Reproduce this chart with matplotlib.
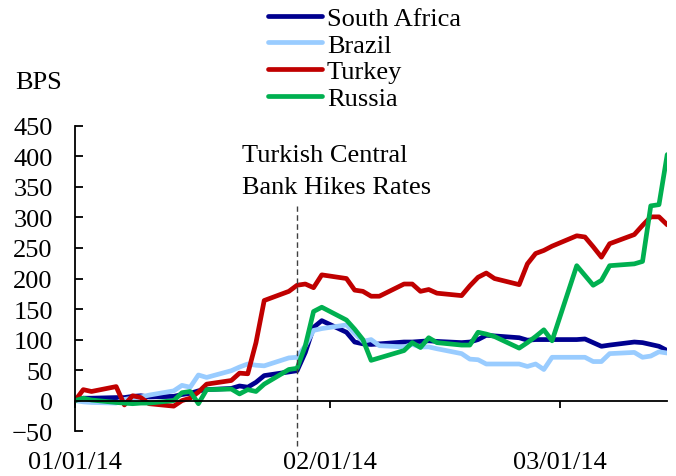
import numpy as np
import pandas as pd
import matplotlib
matplotlib.use("Agg")
import matplotlib.pyplot as plt
import matplotlib.dates as mdates

plt.rcParams['font.family'] = ['Liberation Serif', 'DejaVu Serif']

# business days, 01/01/14 .. 03/14/14
dates = pd.bdate_range("2014-01-01", "2014-03-14")

south_africa = [0, 4, 4, 5, 5, 7, 8, 6, 7, 10, 12, 16, 18, 20, 24, 22, 30, 41,
                47, 49, 79, 120, 131, 112, 96, 93, 92, 93, 96, 96, 97, 98, 97,
                95, 96, 100, 107, 106, 103, 99, 100, 100, 100, 100, 101, 95, 89,
                91, 96, 95, 92, 89, 82]
brazil = [0, -2, -3, -4, 2, 4, 6, 9, 16, 25, 22, 42, 38, 49, 55, 60, 58, 57,
          70, 71, 90, 115, 118, 124, 110, 97, 100, 90, 88, 92, 88, 88, 85,
          77, 68, 67, 60, 60, 60, 56, 60, 51, 71, 71, 71, 64, 64, 77, 79, 71,
          73, 80, 78]
turkey = [0, 18, 15, 23, -7, 8, 5, -5, -9, 0, 4, 14, 27, 33, 45, 44, 95, 164,
          179, 189, 191, 185, 206, 200, 181, 179, 171, 171, 191, 191, 179, 182,
          176, 172, 188, 202, 209, 200, 190, 224, 241, 246, 253, 270, 268, 252,
          235, 257, 272, 287, 301, 301, 288]
russia = [0, 4, 1, -3, -4, -5, -4, -4, 0, 13, 15, -5, 18, 19, 11, 18, 15, 27,
          51, 53, 90, 146, 153, 132, 117, 100, 66, 70, 82, 95, 87, 103, 95,
          91, 91, 112, 109, 105, 86, 95, 105, 116, 98, 221, 205, 189, 197, 221,
          224, 228, 319, 321, 403]

series = [("South Africa", south_africa, "#00008F"),
          ("Brazil", brazil, "#99CCFF"),
          ("Turkey", turkey, "#C00000"),
          ("Russia", russia, "#00B050")]

event_date = pd.Timestamp("2014-01-28")
tick_dates = pd.to_datetime(["2014-01-01", "2014-02-01", "2014-03-01"])

fig = plt.figure(figsize=(6.76, 4.77), dpi=100)
ax = fig.add_axes([0.111, 0.094, 0.876, 0.640])

for name, vals, col in series:
    ax.plot(dates, vals, color=col, lw=3.4, label=name, solid_capstyle='round')

ax.axvline(event_date, ymin=-0.05, ymax=0.738, color="#404040", lw=1,
           ls=(0, (4, 2.5)), clip_on=False)

ax.set_xlim(dates[0], dates[-1])
ax.set_ylim(-50, 450)
ax.set_yticks(np.arange(-50, 451, 50))
ax.set_xticks(tick_dates)
ax.xaxis.set_major_formatter(mdates.DateFormatter("%m/%d/%y"))

ax.spines['top'].set_visible(False)
ax.spines['right'].set_visible(False)
ax.spines['bottom'].set_position(('data', 0))
ax.spines['left'].set_bounds(-50, 450)
for s in ['left', 'bottom']:
    ax.spines[s].set_linewidth(1.3)

ax.tick_params(axis='y', direction='in', length=5.5, width=1.3, labelsize=19, pad=16)
ax.tick_params(axis='x', direction='out', length=5, width=1.3, labelsize=19, pad=31)

ax.text(0.282, 0.852, "Turkish Central\nBank Hikes Rates", transform=ax.transAxes,
        fontsize=19, va='center', ha='left', linespacing=1.62)

fig.text(15 / 676, 1 - 83 / 477, "BPS", fontsize=19, va='center', ha='left')

fig.legend(loc='upper left', bbox_to_anchor=(0.392, 0.99), frameon=False,
           fontsize=19, handlelength=2.05, handletextpad=0.2, labelspacing=0.12,
           borderpad=0.0, borderaxespad=0.1)

fig.savefig("out.png", dpi=100)
